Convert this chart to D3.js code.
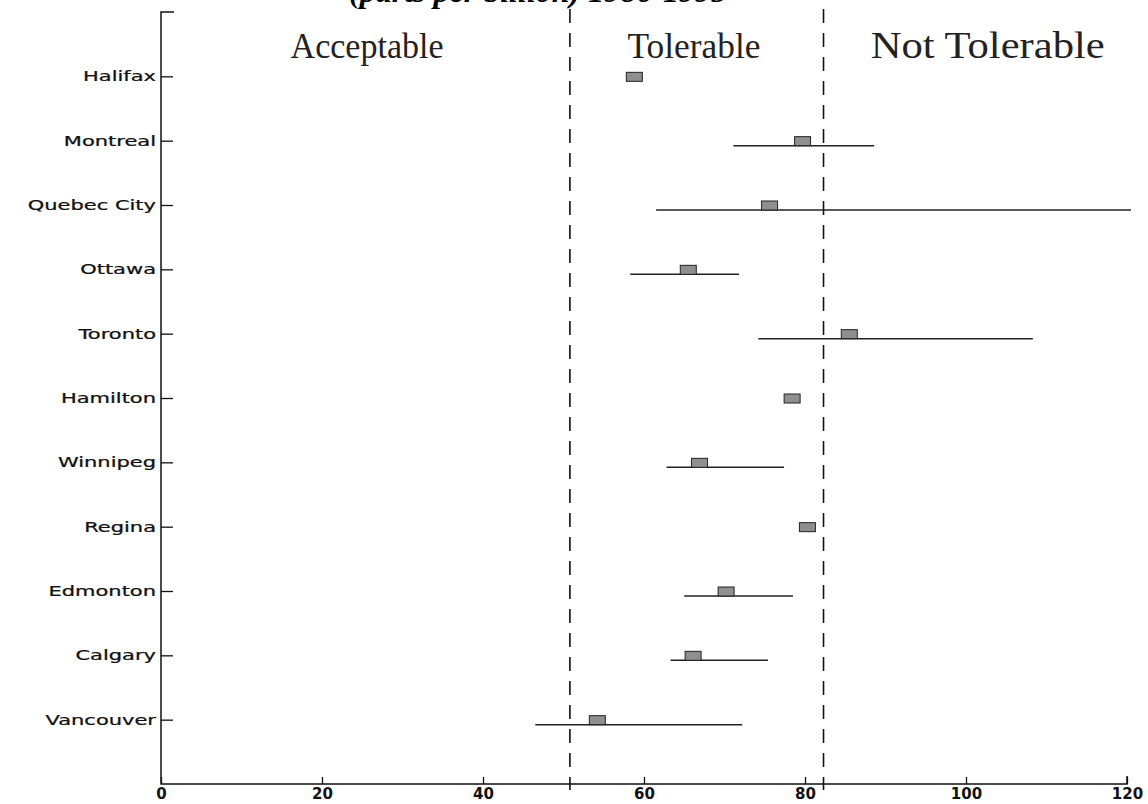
<!DOCTYPE html>
<html>
<head>
<meta charset="utf-8">
<script src="https://cdn.jsdelivr.net/npm/d3@7"></script>
<style>
  html, body { margin: 0; padding: 0; background: #fff; }
  svg { display: block; }
</style>
</head>
<body>
<svg id="chart" width="1148" height="804"></svg>
<script>
// Ozone levels by city (parts per billion): mean marker and observed range
const cities = ["Halifax", "Montreal", "Quebec City", "Ottawa", "Toronto", "Hamilton",
                "Winnipeg", "Regina", "Edmonton", "Calgary", "Vancouver"];
const meanValues = [58.8, 79.7, 75.6, 65.5, 85.5, 78.4, 66.9, 80.3, 70.2, 66.1, 54.2];
const rangeLow  = [null, 71.1, 61.5, 58.3, 74.2, null, 62.8, null, 65.0, 63.3, 46.5];
const rangeHigh = [null, 88.6, 120.5, 71.8, 108.3, null, 77.4, null, 78.5, 75.4, 72.2];

// Air quality objective boundaries and zone names
const thresholds = [50.8, 82.3];
const zoneNames = ["Acceptable", "Tolerable", "Not Tolerable"];
const zoneCenters = [25.6, 66.2, 102.7];

const xTicks = [0, 20, 40, 60, 80, 100, 120];
const titleText = "(parts per billion) 1986-1995";

const svg = d3.select("#chart");
const plotLeft = 161, plotRight = 1127, plotTop = 12, plotBottom = 784;
const zoneLabelWidths = [153, 133, 234];
const zoneLabelSizes = [35, 35, 37];

const x = d3.scaleLinear().domain([0, 120]).range([plotLeft, plotRight]);
const y = d3.scalePoint().domain(cities).range([plotTop, plotBottom]).padding(1);

// Heading, running off the top edge of the page
svg.append("text")
  .attr("x", 538).attr("y", 2)
  .attr("text-anchor", "middle")
  .style("font-family", "'Liberation Serif', 'DejaVu Serif', serif")
  .style("font-style", "italic")
  .style("font-weight", "bold")
  .style("font-size", "32px")
  .text(titleText);

// Zone names
svg.selectAll("text.zone")
  .data(zoneNames)
  .join("text")
  .attr("class", "zone")
  .attr("x", (d, i) => x(zoneCenters[i]))
  .attr("y", 58)
  .attr("text-anchor", "middle")
  .attr("textLength", (d, i) => zoneLabelWidths[i])
  .attr("lengthAdjust", "spacingAndGlyphs")
  .style("font-family", "'Liberation Serif', 'DejaVu Serif', serif")
  .style("font-size", (d, i) => zoneLabelSizes[i] + "px")
  .style("fill", "#222")
  .text(d => d);

// Threshold dashed lines
svg.selectAll("line.threshold")
  .data(thresholds)
  .join("line")
  .attr("class", "threshold")
  .attr("x1", d => x(d)).attr("x2", d => x(d))
  .attr("y1", 9).attr("y2", plotBottom + 6)
  .attr("stroke", "#111")
  .attr("stroke-width", 1.6)
  .attr("stroke-dasharray", "14,10");

// Y axis with inward ticks
const yAxis = svg.append("g")
  .attr("transform", `translate(${plotLeft},0)`)
  .call(d3.axisLeft(y).tickSize(-12).tickPadding(0));
yAxis.select(".domain").remove();
yAxis.selectAll(".tick line").attr("stroke", "#111").attr("stroke-width", 1.3);
yAxis.selectAll(".tick text")
  .attr("x", 0)
  .attr("transform", "translate(-5,0) scale(1.5,1)")
  .style("font-family", "'DejaVu Sans', sans-serif")
  .style("font-size", "14px")
  .style("stroke", "#111")
  .style("stroke-width", 0.25)
  .style("fill", "#111");

// Axis frame: left spine with a top cap, bottom spine
svg.append("path")
  .attr("d", `M${plotLeft + 13},${plotTop}H${plotLeft}V${plotBottom}H${plotRight}V${plotBottom - 8}`)
  .attr("fill", "none")
  .attr("stroke", "#111")
  .attr("stroke-width", 1.5);

// X axis with inward ticks
const xAxis = svg.append("g")
  .attr("transform", `translate(0,${plotBottom})`)
  .call(d3.axisBottom(x).tickValues(xTicks).tickSize(-7).tickPadding(4).tickFormat(d3.format("d")));
xAxis.select(".domain").remove();
xAxis.selectAll(".tick line").attr("stroke", "#111").attr("stroke-width", 1.3);
xAxis.selectAll(".tick text")
  .style("font-family", "'DejaVu Sans', sans-serif")
  .style("font-weight", "bold")
  .style("font-size", "15px")
  .style("fill", "#111");

// Range lines
const rows = cities.map((c, i) => ({city: c, mean: meanValues[i], lo: rangeLow[i], hi: rangeHigh[i]}));
svg.selectAll("line.range")
  .data(rows.filter(d => d.lo !== null))
  .join("line")
  .attr("class", "range")
  .attr("x1", d => x(d.lo)).attr("x2", d => x(Math.min(d.hi, 120.5)))
  .attr("y1", d => y(d.city) + 5).attr("y2", d => y(d.city) + 5)
  .attr("stroke", "#222")
  .attr("stroke-width", 1.5);

// Mean markers
svg.selectAll("rect.mean")
  .data(rows)
  .join("rect")
  .attr("class", "mean")
  .attr("x", d => x(d.mean) - 8)
  .attr("y", d => y(d.city) - 4)
  .attr("width", 16)
  .attr("height", 9)
  .attr("fill", "#8f8f8f")
  .attr("stroke", "#222")
  .attr("stroke-width", 1);
</script>
</body>
</html>
